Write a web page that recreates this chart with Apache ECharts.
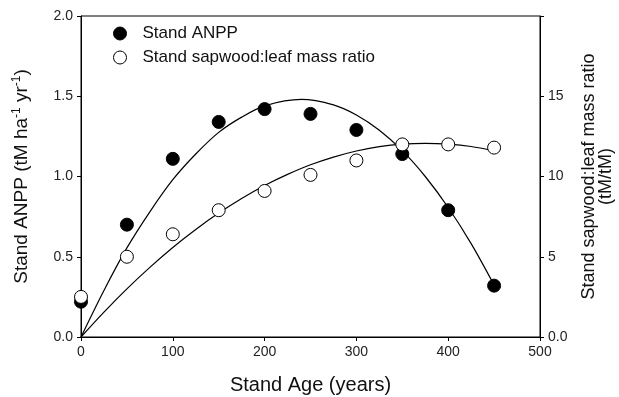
<!DOCTYPE html>
<html>
<head>
<meta charset="utf-8">
<script src="https://cdn.jsdelivr.net/npm/echarts@6/dist/echarts.min.js"></script>
<style>
html,body{margin:0;padding:0;background:#fff;}
#chart{width:619px;height:397px;}
</style>
</head>
<body>
<div id="chart"></div>
<script>
// ---- Data ----
var ages = [0, 50, 100, 150, 200, 250, 300, 350, 400, 450];
var anpp = [0.22, 0.70, 1.11, 1.34, 1.42, 1.39, 1.29, 1.14, 0.79, 0.32];
var sapLeafRatio = [2.5, 5.0, 6.4, 7.9, 9.1, 10.1, 11.0, 12.0, 12.0, 11.8];

// fitted curves
var anppCurveAges = [0, 25, 50, 75, 100, 125, 150, 175, 200, 240, 275, 300, 325, 350, 375, 400, 425, 450];
var anppCurve = [0, 0.29, 0.555, 0.78, 0.98, 1.14, 1.275, 1.37, 1.44, 1.48, 1.446, 1.383, 1.288, 1.161, 1.0, 0.807, 0.582, 0.324];
var ratioCurveAges = [0, 25, 50, 75, 100, 125, 150, 175, 200, 225, 250, 275, 300, 325, 350, 375, 400, 425, 450];
var ratioCurve = [0, 1.55, 3.0, 4.34, 5.58, 6.70, 7.72, 8.63, 9.44, 10.13, 10.73, 11.21, 11.59, 11.86, 12.02, 12.07, 12.02, 11.87, 11.6];

var xTicks = [0, 100, 200, 300, 400, 500];
var leftTicks = [0, 0.5, 1.0, 1.5, 2.0];
var rightTicks = [0, 5, 10, 15, 20];

function pairs(xs, ys) { return xs.map(function (x, i) { return [x, ys[i]]; }); }

var FONT = '"Liberation Sans", Arial, Helvetica, sans-serif';
var chart = echarts.init(document.getElementById('chart'));
chart.setOption({
  animation: false,
  backgroundColor: '#fff',
  textStyle: { fontFamily: FONT },
  grid: { left: 81, right: 79, top: 16, bottom: 60, show: true, borderColor: '#000', borderWidth: 1,
          containLabel: false, outerBoundsMode: 'none' },
  legend: {
    orient: 'vertical', left: 108, top: 20,
    itemWidth: 13, itemHeight: 13, itemGap: 7,
    textStyle: { fontSize: 17, color: '#111', fontFamily: FONT, padding: [0, 0, 0, 11] },
    data: [
      { name: 'Stand ANPP', icon: 'circle', itemStyle: { color: '#000', borderColor: '#000', borderWidth: 1 } },
      { name: 'Stand sapwood:leaf mass ratio', icon: 'circle', itemStyle: { color: '#fff', borderColor: '#000', borderWidth: 1 } }
    ]
  },
  xAxis: {
    type: 'value', min: xTicks[0], max: xTicks[xTicks.length - 1], interval: 100,
    name: 'Stand Age (years)', nameLocation: 'middle', nameGap: 38,
    nameTextStyle: { fontSize: 20, color: '#111', fontFamily: FONT },
    axisLine: { lineStyle: { color: '#000', width: 1 } },
    axisTick: { show: true, length: 4, lineStyle: { color: '#000' } },
    axisLabel: { fontSize: 14, color: '#222', margin: 8, fontFamily: FONT },
    splitLine: { show: false }
  },
  yAxis: [
    {
      type: 'value', min: leftTicks[0], max: leftTicks[leftTicks.length - 1], interval: 0.5,
      position: 'left',
      name: '{a|Stand ANPP (tM ha}{s|-1}{a| yr}{s|-1}{a|)}',
      nameLocation: 'middle', nameGap: 48, nameRotate: 90,
      nameTextStyle: {
        color: '#111', fontFamily: FONT,
        rich: {
          a: { fontSize: 19, color: '#111', fontFamily: FONT, lineHeight: 22 },
          s: { fontSize: 12, color: '#111', fontFamily: FONT, verticalAlign: 'top', lineHeight: 22, padding: [0, 0, 6, 0] }
        }
      },
      axisLine: { show: true, lineStyle: { color: '#000', width: 1 } },
      axisTick: { show: true, length: 4, lineStyle: { color: '#000' } },
      axisLabel: { fontSize: 14, color: '#222', margin: 8, fontFamily: FONT, formatter: function (v) { return v.toFixed(1); } },
      splitLine: { show: false }
    },
    {
      type: 'value', min: rightTicks[0], max: rightTicks[rightTicks.length - 1], interval: 5,
      position: 'right',
      name: 'Stand sapwood:leaf mass ratio\n(tM/tM)',
      nameLocation: 'middle', nameGap: 41, nameRotate: 90,
      nameTextStyle: { fontSize: 18, color: '#111', fontFamily: FONT, lineHeight: 17, align: 'center' },
      axisLine: { show: true, lineStyle: { color: '#000', width: 1 } },
      axisTick: { show: true, length: 4, lineStyle: { color: '#000' } },
      axisLabel: {
        fontSize: 14, color: '#222', margin: 8, fontFamily: FONT,
        formatter: function (v) { return v === 0 ? '0.0' : (v === 20 ? '' : String(v)); }
      },
      splitLine: { show: false }
    }
  ],
  series: [
    {
      name: 'ANPP fit', type: 'line', yAxisIndex: 0, data: pairs(anppCurveAges, anppCurve),
      smooth: 0.3, showSymbol: false, silent: true,
      lineStyle: { color: '#000', width: 1.2 }, z: 1
    },
    {
      name: 'Ratio fit', type: 'line', yAxisIndex: 1, data: pairs(ratioCurveAges, ratioCurve),
      smooth: 0.3, showSymbol: false, silent: true,
      lineStyle: { color: '#000', width: 1.2 }, z: 1
    },
    {
      name: 'Stand ANPP', type: 'scatter', yAxisIndex: 0, data: pairs(ages, anpp),
      symbol: 'circle', symbolSize: 13,
      itemStyle: { color: '#000', borderColor: '#000', borderWidth: 1, opacity: 1 }, z: 3
    },
    {
      name: 'Stand sapwood:leaf mass ratio', type: 'scatter', yAxisIndex: 1, data: pairs(ages, sapLeafRatio),
      symbol: 'circle', symbolSize: 13,
      itemStyle: { color: '#fff', borderColor: '#000', borderWidth: 1, opacity: 1 }, z: 4
    }
  ]
});
</script>
</body>
</html>
